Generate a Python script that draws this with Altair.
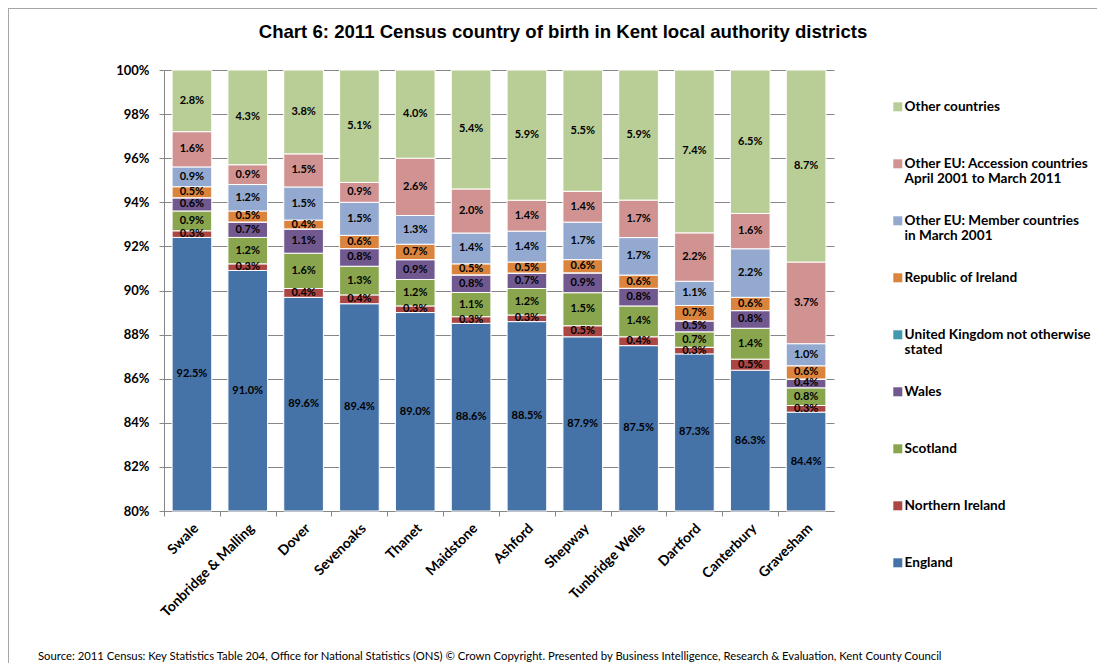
import altair as alt
import pandas as pd

districts = ["Swale", "Tonbridge & Malling", "Dover", "Sevenoaks", "Thanet", "Maidstone",
             "Ashford", "Shepway", "Tunbridge Wells", "Dartford", "Canterbury", "Gravesham"]

england = [92.5, 91.0, 89.6, 89.4, 89.0, 88.6, 88.5, 87.9, 87.5, 87.3, 86.3, 84.4]
northern_ireland = [0.3, 0.3, 0.4, 0.4, 0.3, 0.3, 0.3, 0.5, 0.4, 0.3, 0.5, 0.3]
scotland = [0.9, 1.2, 1.6, 1.3, 1.2, 1.1, 1.2, 1.5, 1.4, 0.7, 1.4, 0.8]
wales = [0.6, 0.7, 1.1, 0.8, 0.9, 0.8, 0.7, 0.9, 0.8, 0.5, 0.8, 0.4]
uk_not_stated = [0.0, 0.0, 0.0, 0.0, 0.0, 0.0, 0.0, 0.0, 0.0, 0.0, 0.0, 0.0]
republic_of_ireland = [0.5, 0.5, 0.4, 0.6, 0.7, 0.5, 0.5, 0.6, 0.6, 0.7, 0.6, 0.6]
eu_member = [0.9, 1.2, 1.5, 1.5, 1.3, 1.4, 1.4, 1.7, 1.7, 1.1, 2.2, 1.0]
eu_accession = [1.6, 0.9, 1.5, 0.9, 2.6, 2.0, 1.4, 1.4, 1.7, 2.2, 1.6, 3.7]
other_countries = [2.8, 4.3, 3.8, 5.1, 4.0, 5.4, 5.9, 5.5, 5.9, 7.4, 6.5, 8.7]

# stacking order, bottom to top
series_names = [
    "England",
    "Northern Ireland",
    "Scotland",
    "Wales",
    "United Kingdom not otherwise|stated",
    "Republic of Ireland",
    "Other EU: Member countries|in March 2001",
    "Other EU: Accession countries|April 2001 to March 2011",
    "Other countries",
]
series_values = [england, northern_ireland, scotland, wales, uk_not_stated,
                 republic_of_ireland, eu_member, eu_accession, other_countries]
series_colors = ["#4572A7", "#AA4643", "#89A54E", "#71588F", "#4198AF",
                 "#DB843D", "#93A9CF", "#D19392", "#B9CD96"]

title_text = "Chart 6: 2011 Census country of birth in Kent local authority districts"
source_text = ("Source: 2011 Census: Key Statistics Table 204, Office for National Statistics (ONS) "
               "\u00a9 Crown Copyright. Presented by Business Intelligence, Research & Evaluation, "
               "Kent County Council")

rows = []
for si, (name, vals) in enumerate(zip(series_names, series_values)):
    for di, d in enumerate(districts):
        rows.append({"district": d, "series": name, "value": vals[di], "order": si})
df = pd.DataFrame(rows)

legend_domain = list(reversed(series_names))
legend_range = list(reversed(series_colors))

W, H = 670, 441
PAD_L, PAD_T, PAD_R, PAD_B = 156, 62, 263, 152
STEP = W / len(districts)
FONT = "Lato"
GRID = "#868686"

x_enc = alt.X(
    "district:N",
    sort=districts,
    scale=alt.Scale(paddingInner=0.29, paddingOuter=0.145),
    axis=alt.Axis(
        title=None, labelAngle=-45, labelAlign="right", labelBaseline="middle",
        labelFont=FONT, labelFontWeight="bold", labelFontSize=14, labelColor="black",
        labelPadding=10, tickOffset=-STEP / 2, labelOffset=STEP / 2 + 4, tickSize=5,
        tickColor=GRID, domainColor=GRID, grid=False,
    ),
)

base = alt.Chart(df).transform_stack(
    stack="value", groupby=["district"], sort=[alt.SortField("order", order="ascending")],
    as_=["s0", "s1"], offset="normalize",
).transform_calculate(
    lo="max(datum.s0, 0.8)",
    hi="min(datum.s1, 1)",
    mid="(max(datum.s0, 0.8) + min(datum.s1, 1)) / 2",
    label="format(datum.value, '.1f') + '%'",
)

y_vals = [0.8, 0.82, 0.84, 0.86, 0.88, 0.9, 0.92, 0.94, 0.96, 0.98, 1.0]

bars = base.mark_bar(stroke="white", strokeWidth=1).encode(
    x=x_enc,
    y=alt.Y(
        "lo:Q",
        scale=alt.Scale(domain=[0.8, 1.0], nice=False, zero=False),
        axis=alt.Axis(
            title=None, values=y_vals, format=".0%", labelFont=FONT, labelFontWeight="bold",
            labelFontSize=13, labelColor="black", labelPadding=10, tickSize=5,
            tickColor=GRID, domainColor=GRID, gridColor=GRID, grid=True,
        ),
    ),
    y2="hi:Q",
    color=alt.Color(
        "series:N",
        scale=alt.Scale(domain=legend_domain, range=legend_range),
        legend=alt.Legend(
            title=None, orient="none", legendX=727, legendY=30, direction="vertical",
            symbolType="square", symbolSize=81, symbolStrokeWidth=0,
            labelFont=FONT, labelFontWeight="bold", labelFontSize=13.6, labelColor="black",
            labelLimit=260, labelOffset=0, rowPadding=27, padding=0,
            labelExpr="indexof(datum.label, '|') >= 0 ? split(datum.label, '|') : [datum.label, '']",
        ),
    ),
)

labels = base.transform_filter("datum.value > 0").mark_text(
    font=FONT, fontWeight="bold", fontSize=11, color="black", baseline="middle", align="center"
).encode(
    x=alt.X("district:N", sort=districts),
    y=alt.Y("mid:Q"),
    text="label:N",
)

dummy = pd.DataFrame({"k": [0]})
border_top = alt.Chart(dummy).mark_rule(color="#a6a6a6", strokeWidth=1).encode(
    x=alt.value(-PAD_L), x2=alt.value(W + PAD_R), y=alt.value(-PAD_T + 0.5)
)
border_left = alt.Chart(dummy).mark_rule(color="#a6a6a6", strokeWidth=1).encode(
    x=alt.value(-PAD_L + 0.5), y=alt.value(-PAD_T), y2=alt.value(H + PAD_B)
)
title = alt.Chart(dummy).mark_text(
    text=title_text, font="Liberation Sans", fontSize=18.6, fontWeight="bold",
    align="center", baseline="middle", color="black"
).encode(x=alt.value(399), y=alt.value(-38))
source = alt.Chart(dummy).mark_text(
    text=source_text, font=FONT, fontSize=11.3, align="left", baseline="middle", color="black"
).encode(x=alt.value(-126), y=alt.value(587))

chart = alt.layer(bars, labels, border_top, border_left, title, source).properties(
    width=W, height=H,
    padding={"left": PAD_L, "top": PAD_T, "right": PAD_R, "bottom": PAD_B},
    autosize=alt.AutoSizeParams(type="none"),
).configure_view(stroke=None)

chart.save("out.html", embed_options={"renderer": "svg", "actions": False})
